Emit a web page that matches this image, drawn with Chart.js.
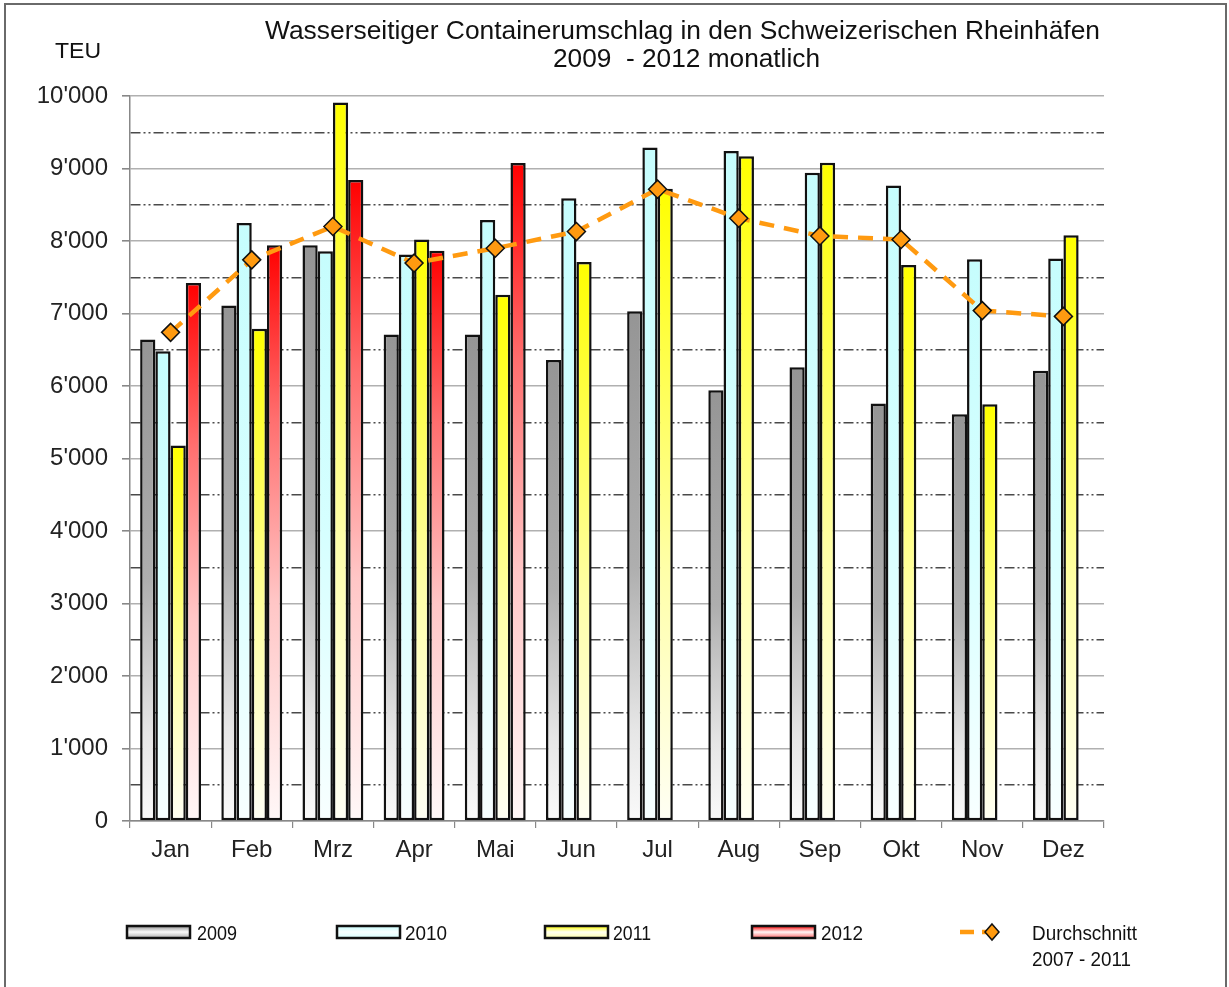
<!DOCTYPE html>
<html><head><meta charset="utf-8">
<script src="https://cdn.jsdelivr.net/npm/chart.js@4"></script>
<style>
html,body{margin:0;padding:0;background:#fff;}
#wrap{position:relative;width:1229px;height:987px;overflow:hidden;background:#fff;}
#frame{position:absolute;left:4px;top:3px;width:1223px;height:1010px;border:2px solid #6a6a6a;box-sizing:border-box;}
#c{position:absolute;left:0;top:0;}
</style></head>
<body>
<div id="wrap"><div id="frame"></div><canvas id="c" width="1229" height="987"></canvas></div>
<script>
const months = ['Jan','Feb','Mrz','Apr','Mai','Jun','Jul','Aug','Sep','Okt','Nov','Dez'];
const teu2009 = [6640,7110,7940,6710,6710,6360,7030,5940,6260,5760,5610,6210];
const teu2010 = [6480,8250,7860,7815,8290,8590,9290,9240,8940,8765,7750,7760];
const teu2011 = [5180,6790,9910,8020,7260,7710,8720,9170,9080,7670,5750,8080];
const teu2012 = [7420,7940,8840,7865,9075,null,null,null,null,null,null,null];
const avg0711 = [6740,7740,8200,7695,7900,8130,8715,8315,8070,8020,7040,6960];
const yTicks = [0,1000,2000,3000,4000,5000,6000,7000,8000,9000,10000];
const seriesNames = ['2009','2010','2011','2012'];
const avgName = ['Durchschnitt','2007 - 2011'];
const title1 = 'Wasserseitiger Containerumschlag in den Schweizerischen Rheinhäfen';
const title2 = '2009  - 2012 monatlich';
const unitLabel = 'TEU';

const NARROW = '"Liberation Sans Narrow", "Liberation Sans", Arial, sans-serif';
const SANS = '"Liberation Sans", Arial, sans-serif';

const palette = {
  '2009': [[0,'#959595'],[0.5,'#aeaeae'],[0.82,'#e6e6e6'],[1,'#fafafa']],
  '2010': [[0,'#c6fdfd'],[0.5,'#d6ffff'],[1,'#f8ffff']],
  '2011': [[0,'#ffff00'],[0.6,'#ffffa8'],[1,'#fffff4']],
  '2012': [[0,'#ff0000'],[0.3,'#ff6e6e'],[0.62,'#ffc6c6'],[1,'#fff8f8']]
};

function barGrad(name){
  const stops = palette[name];
  return (c) => {
    const chart = c.chart;
    const {ctx, chartArea, scales} = chart;
    if (!chartArea || c.type !== 'data' || c.raw == null || !scales.y) return stops[0][1];
    const yTop = scales.y.getPixelForValue(c.raw);
    const yBot = scales.y.getPixelForValue(0);
    if (!isFinite(yTop) || yTop >= yBot) return stops[0][1];
    const g = ctx.createLinearGradient(0, yTop, 0, yBot);
    stops.forEach(s => g.addColorStop(s[0], s[1]));
    return g;
  };
}

function fmt(v){
  const s = String(Math.round(v));
  return s.replace(/\B(?=(\d{3})+(?!\d))/g, "'");
}

function fitText(ctx, text, x, baseline, targetW, font, align){
  ctx.save();
  ctx.font = font;
  const w = ctx.measureText(text).width;
  let sx = targetW ? targetW / w : 1;
  if (sx < 0.7 || sx > 1.4) sx = 1;
  ctx.translate(x, baseline);
  ctx.scale(sx, 1);
  ctx.textAlign = align || 'left';
  ctx.textBaseline = 'alphabetic';
  ctx.fillStyle = '#111';
  ctx.fillText(text, 0, 0);
  ctx.restore();
}

function swatch(ctx, x, y, w, h, stops){
  const g = ctx.createLinearGradient(0, y, 0, y + h);
  g.addColorStop(0, stops[0][1]);
  g.addColorStop(0.5, stops[stops.length-1][1]);
  g.addColorStop(1, stops[Math.min(1, stops.length-1)][1]);
  ctx.fillStyle = g;
  ctx.fillRect(x, y, w, h);
  ctx.lineWidth = 2.5;
  ctx.strokeStyle = '#111';
  ctx.strokeRect(x, y, w, h);
}

const overlay = {
  id: 'overlay',
  afterDraw(chart){
    const ctx = chart.ctx;
    fitText(ctx, title1, 682.5, 39, 835, '26px ' + NARROW, 'center');
    fitText(ctx, title2, 686.5, 67, 267, '26px ' + NARROW, 'center');
    fitText(ctx, unitLabel, 55, 58, 46, '22px ' + NARROW, 'left');
    const sx = [127, 337, 545, 752];
    const tx = [197, 405, 613, 821];
    const tw = [40, 42, 38, 42];
    seriesNames.forEach((n, i) => {
      swatch(ctx, sx[i], 926, 63, 12, palette[n]);
      fitText(ctx, n, tx[i], 940, tw[i], '21px ' + NARROW, 'left');
    });
    ctx.save();
    ctx.strokeStyle = '#ff9a10';
    ctx.lineWidth = 4.5;
    ctx.setLineDash([14, 8]);
    ctx.beginPath(); ctx.moveTo(960, 932); ctx.lineTo(1004, 932); ctx.stroke();
    ctx.setLineDash([]);
    ctx.beginPath();
    ctx.moveTo(992, 924); ctx.lineTo(999, 932); ctx.lineTo(992, 940); ctx.lineTo(985, 932); ctx.closePath();
    ctx.fillStyle = '#ff9a10'; ctx.fill();
    ctx.lineWidth = 1.5; ctx.strokeStyle = '#111'; ctx.stroke();
    ctx.restore();
    fitText(ctx, avgName[0], 1032, 940, 105, '21px ' + NARROW, 'left');
    fitText(ctx, avgName[1], 1032, 966, 99, '21px ' + NARROW, 'left');
  }
};

const barCommon = {
  type: 'bar', borderColor: '#111', borderWidth: 2.5, borderSkipped: false,
  barPercentage: 1, categoryPercentage: 0.75, order: 1
};

new Chart(document.getElementById('c'), {
  data: {
    labels: months,
    datasets: [
      Object.assign({label: seriesNames[0], data: teu2009, backgroundColor: barGrad('2009')}, barCommon),
      Object.assign({label: seriesNames[1], data: teu2010, backgroundColor: barGrad('2010')}, barCommon),
      Object.assign({label: seriesNames[2], data: teu2011, backgroundColor: barGrad('2011')}, barCommon),
      Object.assign({label: seriesNames[3], data: teu2012, backgroundColor: barGrad('2012')}, barCommon),
      {
        type: 'line', label: avgName.join(' '), data: avg0711, order: 0,
        borderColor: '#ff9a10', borderWidth: 4.5, borderDash: [15, 10], tension: 0,
        pointStyle: 'rectRot', pointRadius: 9, pointHoverRadius: 9,
        pointBackgroundColor: '#ff9a10', pointBorderColor: '#111', pointBorderWidth: 1.5
      }
    ]
  },
  options: {
    responsive: false, animation: false, devicePixelRatio: 1,
    layout: {padding: {top: 96, left: 0, right: 125, bottom: 106}},
    plugins: {legend: {display: false}, title: {display: false}, tooltip: {enabled: false}},
    scales: {
      x: {
        afterFit: (s) => { s.height = 60; },
        grid: {offset: true, drawOnChartArea: false, drawTicks: true, tickLength: 7, color: '#888', lineWidth: 1.2},
        border: {color: '#888', width: 1.5},
        ticks: {font: {family: SANS, size: 24}, color: '#222', padding: 8}
      },
      y: {
        min: 0, max: 10000,
        afterFit: (s) => { s.width = 130; },
        afterBuildTicks: (s) => {
          const t = [];
          for (let v = 0; v <= 10000; v += 500) t.push({value: v});
          s.ticks = t;
        },
        ticks: {
          font: {family: SANS, size: 24}, color: '#222', padding: 14,
          callback: (v) => yTicks.includes(v) ? fmt(v) : ''
        },
        grid: {
          drawTicks: true, tickLength: 8,
          color: (c) => (c.tick && c.tick.value % 1000 !== 0) ? '#4a4a4a' : '#b0b0b0',
          lineWidth: (c) => (c.tick && c.tick.value % 1000 !== 0) ? 1.4 : 1.6,
          tickColor: (c) => (c.tick && c.tick.value % 1000 !== 0) ? 'rgba(0,0,0,0)' : '#888'
        },
        border: {
          color: '#888', width: 1.5,
          dash: (c) => (c.tick && c.tick.value % 1000 !== 0) ? [10, 3, 2, 3, 2, 3] : []
        }
      }
    }
  },
  plugins: [overlay]
});
</script>
</body></html>
